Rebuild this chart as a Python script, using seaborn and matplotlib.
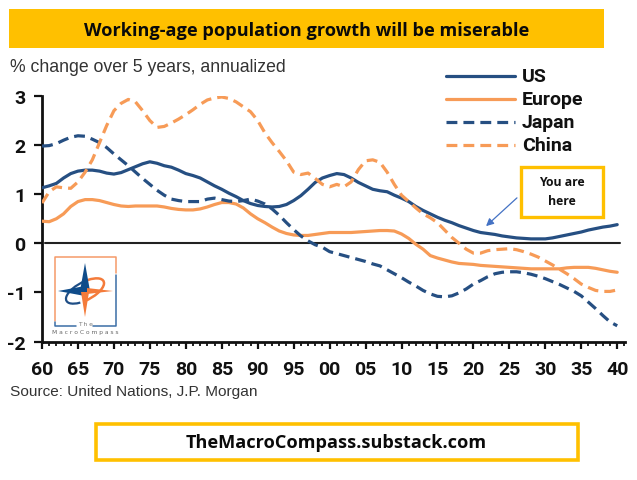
import matplotlib
matplotlib.use("Agg")
import matplotlib.pyplot as plt
from matplotlib.lines import Line2D
from matplotlib.patches import Rectangle, Polygon, Arc
from matplotlib.ticker import MultipleLocator, FuncFormatter
import numpy as np
import pandas as pd
import seaborn as sns

years = list(range(1960, 2041))
us = [1.13,1.17,1.22,1.33,1.42,1.47,1.49,1.49,1.47,1.43,1.41,1.44,1.5,1.56,1.62,1.66,1.63,1.58,1.55,1.49,
      1.42,1.38,1.33,1.25,1.17,1.1,1.02,.95,.87,.81,.77,.75,.74,.75,.79,.87,.97,1.1,1.24,1.33,
      1.38,1.42,1.4,1.33,1.24,1.17,1.1,1.07,1.05,.98,.92,.85,.75,.67,.6,.53,.47,.42,.36,.31,
      .26,.22,.2,.18,.15,.13,.11,.1,.09,.09,.09,.11,.14,.17,.2,.23,.27,.3,.33,.35,.38]
europe = [.45,.44,.5,.6,.75,.85,.89,.89,.87,.83,.79,.76,.75,.76,.76,.76,.76,.74,.71,.69,
          .68,.68,.7,.74,.79,.83,.83,.8,.72,.6,.5,.42,.33,.25,.2,.17,.16,.16,.18,.2,
          .22,.22,.22,.22,.23,.24,.25,.26,.26,.25,.19,.1,-.02,-.12,-.25,-.3,-.34,-.38,-.41,-.42,
          -.43,-.45,-.46,-.47,-.48,-.49,-.5,-.51,-.52,-.52,-.52,-.52,-.52,-.5,-.49,-.49,-.49,-.51,-.54,-.57,-.59]
japan = [1.98,1.99,2.03,2.1,2.16,2.19,2.18,2.12,2.05,1.95,1.82,1.7,1.58,1.45,1.32,1.2,1.08,.98,.9,.87,
         .85,.85,.85,.9,.92,.89,.86,.85,.87,.9,.86,.8,.7,.57,.42,.28,.15,.05,-.03,-.08,
         -.17,-.21,-.25,-.29,-.33,-.37,-.42,-.46,-.54,-.62,-.7,-.79,-.87,-.96,-1.03,-1.08,-1.09,-1.07,-1.01,-.93,
         -.83,-.76,-.68,-.62,-.59,-.58,-.58,-.6,-.63,-.67,-.72,-.78,-.84,-.91,-.98,-1.07,-1.2,-1.33,-1.47,-1.6,-1.68]
china = [.82,1.05,1.15,1.13,1.12,1.25,1.45,1.7,2.05,2.4,2.7,2.85,2.93,2.88,2.7,2.5,2.36,2.38,2.45,2.53,
         2.62,2.72,2.83,2.92,2.96,2.98,2.95,2.88,2.78,2.68,2.5,2.25,2.05,1.87,1.68,1.45,1.4,1.43,1.32,1.2,
         1.15,1.2,1.15,1.25,1.5,1.68,1.7,1.65,1.45,1.2,.98,.85,.72,.6,.52,.42,.27,.12,.0,-.12,
         -.2,-.2,-.15,-.13,-.12,-.11,-.13,-.17,-.22,-.28,-.36,-.44,-.53,-.62,-.72,-.83,-.9,-.96,-.98,-.98,-.95]
series_names = ["US", "Europe", "Japan", "China"]
x_tick_labels = ["60","65","70","75","80","85","90","95","00","05","10","15","20","25","30","35","40"]

BLUE = "#264F82"
ORANGE = "#F79B57"
YELLOW = "#FFC000"
ARIAL = ["Liberation Sans", "DejaVu Sans"]
NARROW = ["Roboto", "Liberation Sans"]
CAL = ["Open Sans", "DejaVu Sans"]

sns.set_theme(style="white")
plt.rcParams["axes.unicode_minus"] = False
W, H = 637, 481
fig = plt.figure(figsize=(W/100, H/100), dpi=100)
L, R, T, B = 42, 625, 97, 342.5
ax = fig.add_axes([L/W, 1-B/H, (R-L)/W, (B-T)/H])

df = pd.DataFrame({"year": years, "US": us, "Europe": europe, "Japan": japan, "China": china})
long = df.melt("year", var_name="series", value_name="value")
sns.lineplot(data=long, x="year", y="value", hue="series", style="series",
             hue_order=series_names, style_order=series_names,
             palette={"US": BLUE, "Europe": ORANGE, "Japan": BLUE, "China": ORANGE},
             dashes={"US": "", "Europe": "", "Japan": (3.4, 1.9), "China": (3.4, 1.9)},
             linewidth=2.3, errorbar=None, legend=False, ax=ax, zorder=3)
ax.set_xlim(1960, 1960 + (R-L)/7.19)
ax.set_ylim(-2, 3)
ax.set_xlabel(""); ax.set_ylabel("")
ax.patch.set_alpha(0)
for s in ("top", "right"):
    ax.spines[s].set_visible(False)
for s in ("left", "bottom"):
    ax.spines[s].set_linewidth(2.0)
    ax.spines[s].set_color("#111111")
ax.plot([1960.4, 2040.4], [0, 0], color="#222222", lw=1.5, zorder=2)
ax.xaxis.set_major_locator(MultipleLocator(5))
ax.xaxis.set_minor_locator(MultipleLocator(1))
ax.xaxis.set_major_formatter(FuncFormatter(lambda v, p: x_tick_labels[int(round((v-1960)/5))] if 0 <= round((v-1960)/5) < len(x_tick_labels) else ""))
ax.yaxis.set_major_locator(MultipleLocator(1))
ax.tick_params(axis="x", which="major", bottom=True, length=5, width=1.6, color="#111111", pad=8)
ax.tick_params(axis="x", which="minor", bottom=True, length=3, width=1.3, color="#111111")
ax.tick_params(axis="y", which="major", left=True, length=6, width=1.6, color="#111111", pad=6)
for t in ax.get_xticklabels() + ax.get_yticklabels():
    t.set_fontfamily(NARROW); t.set_fontweight("bold"); t.set_fontsize(14); t.set_color("#111111")

# overlay in pixel coordinates for furniture
ov = fig.add_axes([0, 0, 1, 1], zorder=5)
ov.set_xlim(0, W); ov.set_ylim(H, 0); ov.axis("off"); ov.patch.set_alpha(0)

ov.add_patch(Rectangle((9, 10), 595, 39, fc=YELLOW, ec="none"))
ov.text(307, 30.5, "Working-age population growth will be miserable", ha="center", va="center",
        family=CAL, weight="bold", fontsize=13.05, color="#0a0a0a")
ov.text(10, 68, "% change over 5 years, annualized", ha="left", va="center",
        family=ARIAL, fontsize=12.7, color="#333333")
ov.text(10, 392, "Source: United Nations, J.P. Morgan", ha="left", va="center",
        family=ARIAL, fontsize=11.05, color="#333333")

# legend
leg_y = [77, 100, 123, 146]
leg_style = ["-", "-", (0, (3.4, 1.9)), (0, (3.4, 1.9))]
leg_col = [BLUE, ORANGE, BLUE, ORANGE]
for name, y, ls, c in zip(series_names, leg_y, leg_style, leg_col):
    ov.add_line(Line2D([446, 515], [y, y], color=c, lw=2.3, linestyle=ls))
    ov.text(522, y, name, ha="left", va="center", family=NARROW, weight="bold", fontsize=14, color="#111111")

# callout
ov.add_patch(Rectangle((520.5, 167.5), 82, 50, fc="white", ec=YELLOW, lw=2.4))
ov.text(562, 183, "You are", ha="center", va="center", family=CAL, weight="bold", fontsize=8.8, color="#111111")
ov.text(562, 202, "here", ha="center", va="center", family=CAL, weight="bold", fontsize=8.8, color="#111111")
ov.annotate("", xy=(484, 229), xytext=(519, 197),
            arrowprops=dict(arrowstyle="-|>", color="#4472C4", lw=0.9, mutation_scale=11))

# bottom banner
ov.add_patch(Rectangle((95.5, 424.5), 482, 36, fc="white", ec=YELLOW, lw=2.6))
ov.text(336, 443.5, "TheMacroCompass.substack.com", ha="center", va="center",
        family=CAL, weight="bold", fontsize=13.05, color="#0a0a0a")

# logo
LB, LO = "#1F4E86", "#F47B3A"
ov.plot([55, 55, 116, 116], [322, 258, 258, 274], color="#F59A68", lw=1.1)
ov.plot([116, 116, 93], [276, 327, 327], color="#3B6EA5", lw=1.1)
ov.plot([55, 55, 76], [323, 327, 327], color="#3B6EA5", lw=1.1)
cx, cy = 85, 292
ov.add_patch(Arc((cx, cy), 42, 18, angle=-28, theta1=140, theta2=300, color=LB, lw=1.6, zorder=2))
ov.add_patch(Arc((cx, cy), 42, 18, angle=-28, theta1=-50, theta2=120, color=LO, lw=1.8, zorder=2))
ov.add_patch(Polygon([(cx, 264), (cx+5, cy), (cx, cy+5), (cx-5, cy)], fc="#0F4C8A", ec="none", zorder=3))
ov.add_patch(Polygon([(58, cy), (cx, cy-5), (cx+5, cy), (cx, cy+5)], fc="#0F4C8A", ec="none", zorder=3))
ov.add_patch(Polygon([(cx, 318), (cx+4, cy+1), (cx-4, cy+1)], fc=LO, ec="none", zorder=3))
ov.add_patch(Polygon([(113, cy), (cx+2, cy-3), (cx+2, cy+3)], fc=LO, ec="none", zorder=3))
ov.text(85, 325, "T h e", ha="center", va="center", family="DejaVu Sans", fontsize=4.3, color="#777777")
ov.text(85, 333, "M a c r o C o m p a s s", ha="center", va="center", family="DejaVu Sans", fontsize=4.3, color="#666666")

fig.savefig("out.png", dpi=100, facecolor="white")
